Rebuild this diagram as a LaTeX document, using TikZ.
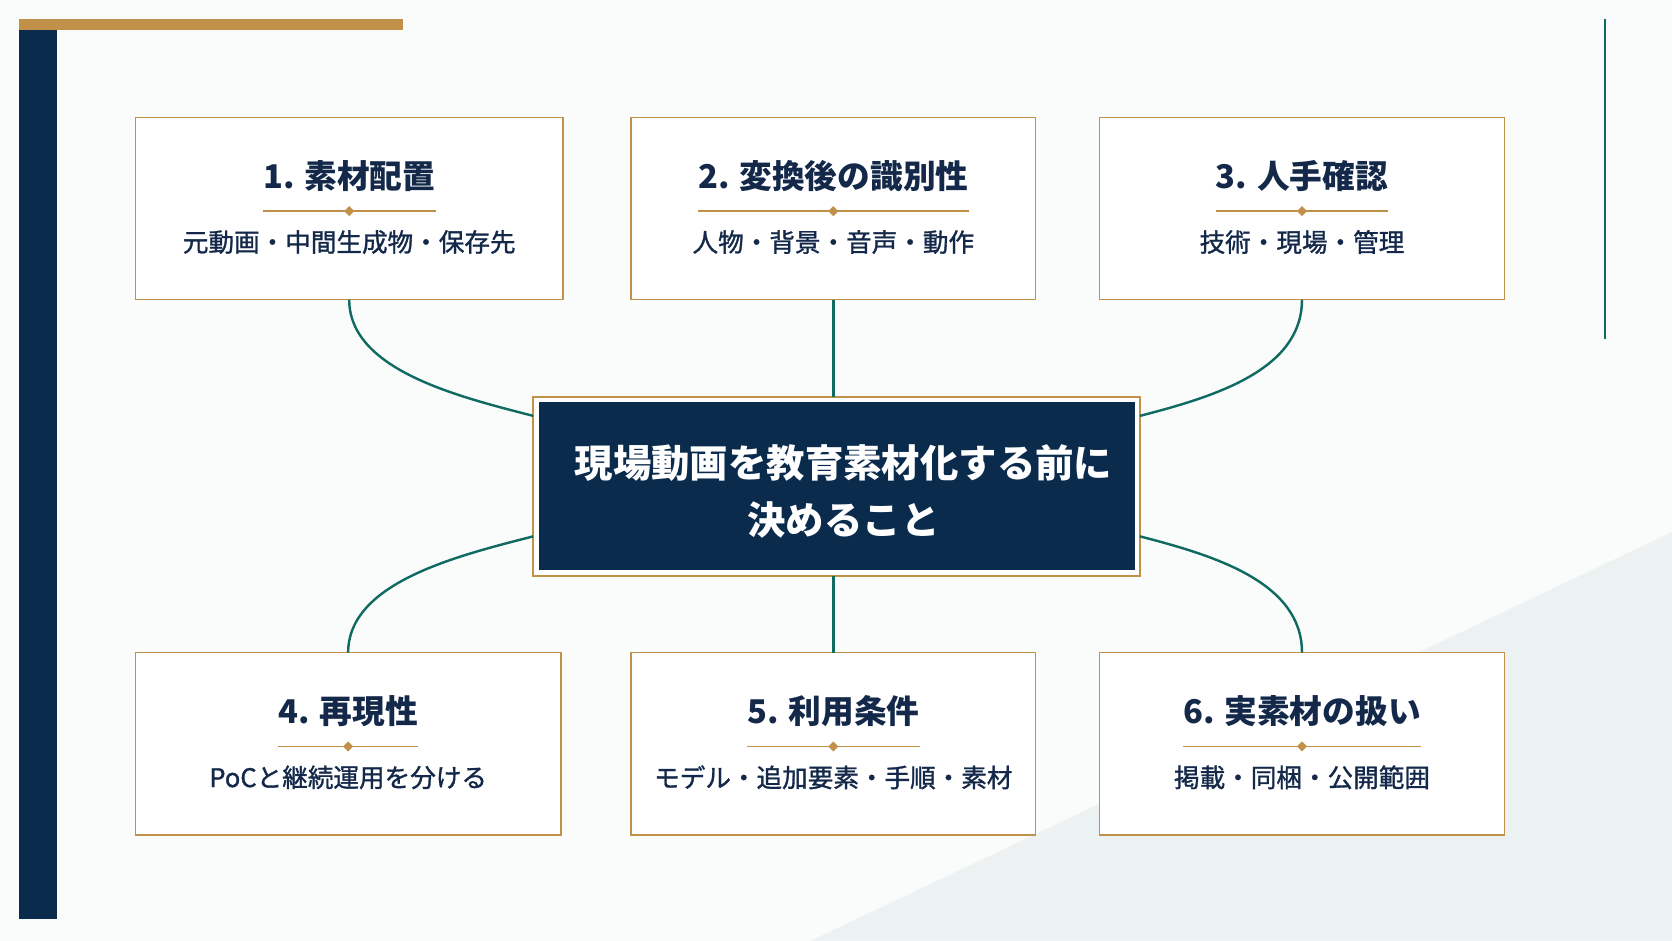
\documentclass[tikz,border=0pt]{standalone}
\usepackage{fontspec}
\setmainfont{Noto Sans CJK JP}
\newfontfamily\subfont[FakeBold=1.2]{Noto Sans CJK JP}
\usetikzlibrary{calc}
\definecolor{cnavy}{HTML}{0B2B4D}
\definecolor{cgold}{HTML}{C1914A}
\definecolor{cteal}{HTML}{0F6A62}
\definecolor{cink}{HTML}{14294A}
\definecolor{cbg}{HTML}{FAFBFB}
\definecolor{ctri}{HTML}{ECF1F1}
\tikzset{
  cardbox/.style={draw=cgold, line width=1.1pt, fill=white, inner sep=0pt, outer sep=0pt, minimum height=128.25pt},
  ttltext/.style={text=cink, inner sep=0pt, font=\fontsize{23}{28}\selectfont\bfseries},
  subtext/.style={text=cink, inner sep=0pt, font=\fontsize{18}{22}\subfont},
  divline/.style={draw=cgold, line width=1pt},
  divdot/.style={fill=cgold, inner sep=0pt, minimum size=5pt, rotate=45},
  connline/.style={draw=cteal, line width=1.7pt},
}
\newcommand\mkcard[6]{%
  \node[cardbox, minimum width=#4*0.75pt] (b#1) at (#2,#3) {};
  \node[ttltext] (t#1) at (#2,#3-30.5) {#5};
  \draw[divline] ($(t#1.west)+(0,33)$) -- ($(t#1.east)+(0,33)$);
  \node[divdot] (d#1) at ($(t#1.center)+(0,33)$) {};
  \node[subtext] (s#1) at (#2,#3+31.5) {#6};
}
\begin{document}
\begin{tikzpicture}[x=0.75pt,y=-0.75pt]
\fill[cbg] (0,0) rectangle (1568,882);
\useasboundingbox (0,0) rectangle (1568,882);
\fill[ctri] (761,882) -- (1568,499) -- (1568,882) -- cycle;
\fill[cgold] (18,18) rectangle (378,28);
\fill[cnavy] (18,28) rectangle (53,862);
\draw[cteal, line width=1.5pt] (1505,18) -- (1505,318);

\mkcard{1}{327.5}{195.5}{401}{1. 素材配置}{元動画・中間生成物・保存先}
\mkcard{2}{781.5}{195.5}{379}{2. 変換後の識別性}{人物・背景・音声・動作}
\mkcard{3}{1221}{195.5}{380}{3. 人手確認}{技術・現場・管理}
\mkcard{4}{326.5}{697.5}{399}{4. 再現性}{PoCと継続運用を分ける}
\mkcard{5}{781.5}{697.5}{379}{5. 利用条件}{モデル・追加要素・手順・素材}
\mkcard{6}{1221}{697.5}{380}{6. 実素材の扱い}{掲載・同梱・公開範囲}

\node[draw=cgold, line width=1.3pt, fill=white, inner sep=0pt, outer sep=0pt,
      minimum width=426.75pt, minimum height=126pt] (c) at (784.5,456) {};
\node[fill=cnavy, inner sep=0pt, outer sep=0pt,
      minimum width=419.25pt, minimum height=118.5pt] (ci) at (784.5,456) {};
\node[align=center, text=white, inner sep=0pt,
      font=\fontsize{27}{40}\selectfont\bfseries] (ct) at (791,461) {現場動画を教育素材化する前に\\決めること};

\draw[connline] (b1.south) .. controls +(0,66) and +(-70,-18) .. ($(c.west)+(0,-66)$);
\draw[connline] (b2.south) -- (b2.south |- c.north);
\draw[connline] (b3.south) .. controls +(0,66) and +(70,-18) .. ($(c.east)+(0,-66)$);
\draw[connline] (b4.north) .. controls +(0,-66) and +(-70,18) .. ($(c.west)+(0,47)$);
\draw[connline] (b5.north) -- (b5.north |- c.south);
\draw[connline] (b6.north) .. controls +(0,-66) and +(70,18) .. ($(c.east)+(0,47)$);
\end{tikzpicture}
\end{document}
